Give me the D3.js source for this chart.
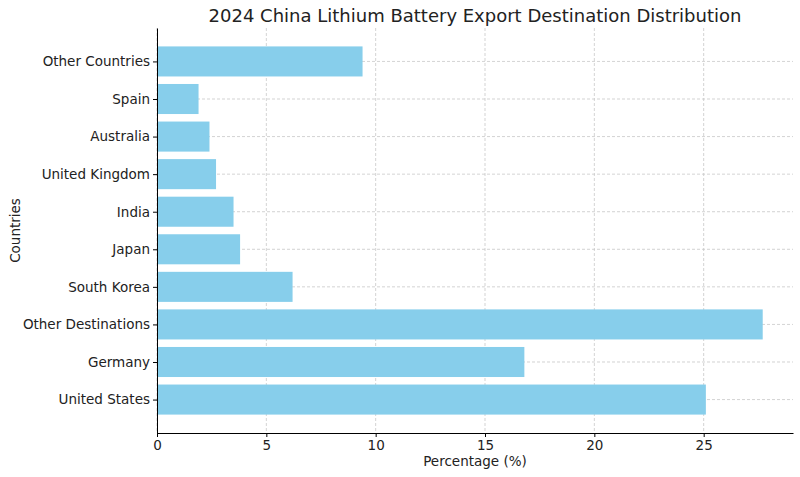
<!DOCTYPE html>
<html>
<head>
<meta charset="utf-8">
<script src="https://cdn.jsdelivr.net/npm/d3@7"></script>
<style>
  body { margin: 0; background: #fff; }
  text { font-family: "DejaVu Sans", sans-serif; }
</style>
</head>
<body>
<div id="chart"></div>
<script>
// data, bottom to top
const countries = ["United States", "Germany", "Other Destinations", "South Korea", "Japan",
                   "India", "United Kingdom", "Australia", "Spain", "Other Countries"];
const percentages = [25.1, 16.8, 27.7, 6.2, 3.8, 3.5, 2.7, 2.4, 1.9, 9.4];
const xTicks = [0, 5, 10, 15, 20, 25];

const width = 800, height = 477;
const margin = {top: 28, right: 7, bottom: 44, left: 157};

const svg = d3.select("#chart").append("svg")
    .attr("width", width)
    .attr("height", height);

const x = d3.scaleLinear()
    .domain([0, d3.max(percentages) * 1.05])
    .range([margin.left, width - margin.right]);

// matplotlib-style bar positions: index with 0.8 height and 5% margins
const n = countries.length;
const pad = 0.05 * (n - 1 + 0.8);
const y = d3.scaleLinear()
    .domain([-0.4 - pad, n - 1 + 0.4 + pad])
    .range([height - margin.bottom, margin.top]);
const barH = y(0) - y(0.8);

// grid
svg.append("g").selectAll("line").data(xTicks).join("line")
    .attr("x1", d => x(d)).attr("x2", d => x(d))
    .attr("y1", margin.top).attr("y2", height - margin.bottom)
    .attr("stroke", "#c8c8c8").attr("stroke-dasharray", "3,2").attr("stroke-width", 0.8);
svg.append("g").selectAll("line").data(countries).join("line")
    .attr("x1", margin.left).attr("x2", width - margin.right)
    .attr("y1", (d, i) => y(i)).attr("y2", (d, i) => y(i))
    .attr("stroke", "#c8c8c8").attr("stroke-dasharray", "3,2").attr("stroke-width", 0.8);

// bars
svg.append("g").selectAll("rect").data(percentages).join("rect")
    .attr("x", x(0))
    .attr("y", (d, i) => y(i) - barH / 2)
    .attr("width", d => x(d) - x(0))
    .attr("height", barH)
    .attr("fill", "#87ceeb");

// axes
const xAxis = svg.append("g")
    .attr("transform", "translate(0," + (height - margin.bottom) + ")")
    .call(d3.axisBottom(x).tickValues(xTicks).tickSize(4).tickSizeOuter(0));
const yAxis = svg.append("g")
    .attr("transform", "translate(" + margin.left + ",0)")
    .call(d3.axisLeft(y).tickValues(d3.range(n)).tickFormat(i => countries[i]).tickSize(4).tickSizeOuter(0));
[xAxis, yAxis].forEach(a => {
    a.selectAll("text").style("font-size", "13.5px").attr("fill", "#222");
    a.select(".domain").attr("stroke", "#000");
});

svg.append("text")
    .attr("x", (margin.left + width - margin.right) / 2)
    .attr("y", 466)
    .attr("text-anchor", "middle")
    .style("font-size", "13.5px")
    .attr("fill", "#222")
    .text("Percentage (%)");

svg.append("text")
    .attr("transform", "translate(20," + ((margin.top + height - margin.bottom) / 2) + ") rotate(-90)")
    .attr("text-anchor", "middle")
    .style("font-size", "13.5px")
    .attr("fill", "#222")
    .text("Countries");

svg.append("text")
    .attr("x", (margin.left + width - margin.right) / 2)
    .attr("y", 22)
    .attr("text-anchor", "middle")
    .style("font-size", "18px")
    .attr("fill", "#222")
    .text("2024 China Lithium Battery Export Destination Distribution");
</script>
</body>
</html>
